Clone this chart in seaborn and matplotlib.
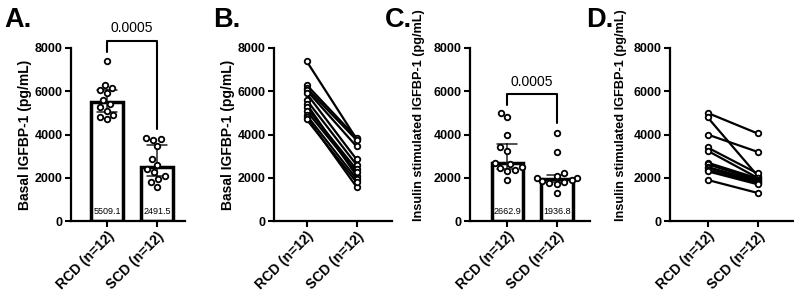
import numpy as np
import pandas as pd
import matplotlib
matplotlib.use("Agg")
import matplotlib.pyplot as plt
import seaborn as sns

groups = ["RCD (n=12)", "SCD (n=12)"]

# paired values per subject, basal IGFBP-1 (pg/mL)
basal_rcd = [7400, 6300, 6150, 6050, 5900, 5600, 5418.2, 5250, 5100, 4900, 4800, 4700]
basal_scd = [3800, 3850, 3750, 3450, 2850, 2600, 2100, 2383, 2250, 1950, 1580, 1800]

# paired values per subject, insulin stimulated IGFBP-1 (pg/mL)
ins_rcd = [5000, 4800, 4000, 3400, 3250, 2700, 2625.8, 2500, 2450, 2350, 2300, 1900]
ins_scd = [4050, 2100, 3200, 2200, 2000, 1973.6, 1900, 1850, 1800, 1750, 1700, 1300]

basal_labels = ["5509.1", "2491.5"]
ins_labels = ["2662.9", "1936.8"]
p_value = "0.0005"


def long_table(rcd, scd):
    n = len(rcd)
    return pd.DataFrame({
        "subject": list(range(n)) * 2,
        "group": [groups[0]] * n + [groups[1]] * n,
        "value": list(rcd) + list(scd),
    })


basal = long_table(basal_rcd, basal_scd)
insulin = long_table(ins_rcd, ins_scd)

sns.set_style("ticks", {"axes.edgecolor": "black", "text.color": "black",
                        "axes.labelcolor": "black", "xtick.color": "black",
                        "ytick.color": "black"})
plt.rcParams["font.family"] = ["Liberation Sans", "DejaVu Sans"]

fig = plt.figure(figsize=(7.94, 2.94), dpi=100)
W, H = 794, 294


def make_ax(left, right, top=48, bottom=221):
    return fig.add_axes([left / W, (H - bottom) / H, (right - left) / W, (bottom - top) / H])


axA = make_ax(71, 185)
axB = make_ax(274, 392)
axC = make_ax(470, 590)
axD = make_ax(670, 793)


def bar_panel(ax, df, labels):
    sns.barplot(data=df, x="group", y="value", order=groups, estimator="median",
                errorbar=("pi", 50), color="white", edgecolor="black", linewidth=2.5,
                width=0.64, capsize=0.4, err_kws={"color": "#222222", "linewidth": 1.1},
                ax=ax)
    sns.swarmplot(data=df, x="group", y="value", order=groups, color="white",
                  edgecolor="black", linewidth=1.3, size=4, ax=ax)
    for i, txt in enumerate(labels):
        ax.text(i, 450, txt, ha="center", va="center", fontsize=6.5)


def line_panel(ax, df):
    sns.lineplot(data=df, x="group", y="value", units="subject", estimator=None,
                 color="black", linewidth=1.6, marker="o", markersize=4,
                 markerfacecolor="white", markeredgecolor="black", markeredgewidth=1.3,
                 ax=ax)


bar_panel(axA, basal, basal_labels)
line_panel(axB, basal)
bar_panel(axC, insulin, ins_labels)
line_panel(axD, insulin)

xlims = {axA: (-0.72, 1.56), axB: (-0.65, 1.71), axC: (-0.755, 1.67), axD: (-0.75, 1.71)}
for ax in [axA, axB, axC, axD]:
    ax.set_ylim(0, 8000)
    ax.set_yticks([0, 2000, 4000, 6000, 8000])
    ax.set_xlim(*xlims[ax])
    ax.set_xticks([0, 1])
    ax.set_xticklabels(groups, rotation=45, ha="right", rotation_mode="anchor",
                       fontsize=10, fontweight="bold")
    for lab in ax.get_yticklabels():
        lab.set_fontweight("bold")
        lab.set_fontsize(9)
    ax.tick_params(width=1.5, length=4, pad=2, color="black", labelcolor="black")
    sns.despine(ax=ax)
    for s in ["left", "bottom"]:
        ax.spines[s].set_linewidth(1.6)
        ax.spines[s].set_color("black")
    ax.set_xlabel("")

axA.set_ylabel("Basal IGFBP-1 (pg/mL)", fontsize=10, fontweight="bold", labelpad=2)
axB.set_ylabel("Basal IGFBP-1 (pg/mL)", fontsize=10, fontweight="bold", labelpad=2)
axC.set_ylabel("Insulin stimulated IGFBP-1 (pg/mL)", fontsize=9.2, fontweight="bold")
axD.set_ylabel("Insulin stimulated IGFBP-1 (pg/mL)", fontsize=9.2, fontweight="bold")
axC.yaxis.set_label_coords(-0.375, 0.61)
axD.yaxis.set_label_coords(-0.35, 0.61)


def bracket(ax, y_top, y_left, y_right, y_text):
    ax.plot([0, 0, 1, 1], [y_left, y_top, y_top, y_right], color="black",
            linewidth=1.5, clip_on=False)
    ax.text(0.5, y_text, p_value, ha="center", va="center", fontsize=10,
            color="black", clip_on=False)


bracket(axA, 8340, 7830, 4240, 8920)
bracket(axC, 5860, 5360, 4520, 6420)

for letter, x in [("A.", 4), ("B.", 213), ("C.", 385), ("D.", 586)]:
    fig.text(x / W, 1 - 20 / H, letter, fontsize=19.5, fontweight="bold",
             color="black", va="center", ha="left")

fig.savefig("out.png", dpi=100)
